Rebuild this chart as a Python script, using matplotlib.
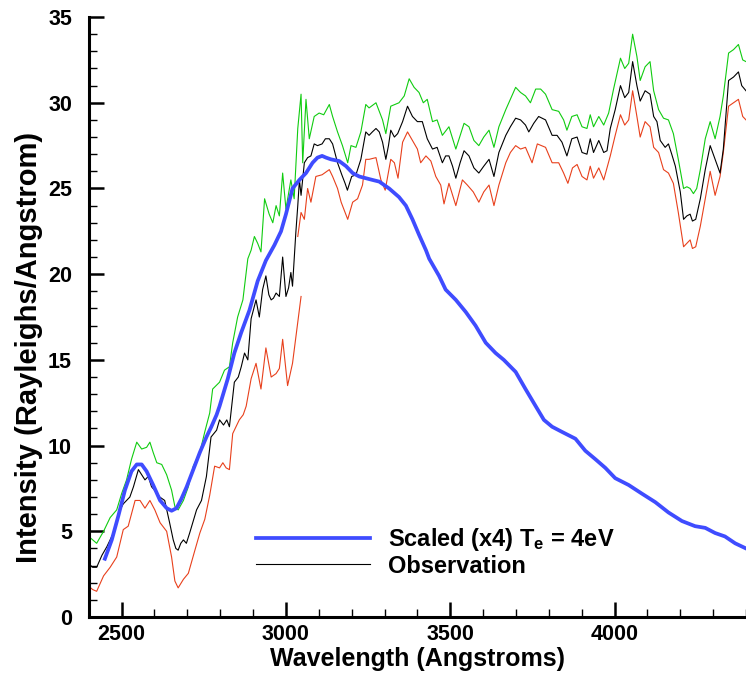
import numpy as np
import matplotlib
matplotlib.use('Agg')
import matplotlib.pyplot as plt

# observation (black)
obs_wl = [2400, 2412, 2424, 2440, 2455, 2465, 2475, 2485, 2495, 2505, 2515, 2525, 2536, 2551, 2561, 2571,
          2581, 2591, 2600, 2616, 2631, 2646, 2657, 2665, 2672, 2680, 2688, 2697, 2707, 2718, 2728, 2743,
          2758, 2772, 2789, 2798, 2810, 2820, 2828, 2843, 2855, 2864, 2874, 2884, 2894, 2909, 2919, 2929,
          2939, 2948, 2955, 2962, 2970, 2980, 2990, 3000, 3008, 3015, 3020, 3030, 3036, 3041, 3046, 3056,
          3066, 3076, 3086, 3096, 3110, 3120, 3132, 3142, 3157, 3170, 3180, 3187, 3200, 3213, 3228, 3243,
          3253, 3263, 3274, 3284, 3294, 3304, 3312, 3319, 3330, 3340, 3355, 3370, 3385, 3400, 3415, 3430,
          3446, 3460, 3476, 3486, 3496, 3507, 3517, 3530, 3542, 3557, 3572, 3587, 3602, 3618, 3633, 3648,
          3669, 3683, 3699, 3714, 3729, 3739, 3754, 3769, 3790, 3810, 3825, 3840, 3855, 3870, 3886, 3901,
          3916, 3926, 3936, 3952, 3967, 3977, 3987, 4002, 4018, 4031, 4043, 4055, 4068, 4078, 4093, 4108,
          4119, 4129, 4139, 4154, 4164, 4174, 4185, 4200, 4210, 4220, 4230, 4237, 4247, 4261, 4276, 4291,
          4306, 4321, 4331, 4347, 4362, 4377, 4387, 4400]
obs = [3.1, 2.9, 2.9, 3.6, 4.1, 4.5, 4.9, 5.6, 6.25, 6.6, 6.8, 7.0, 7.6, 8.6, 8.3, 8.0,
       8.2, 7.6, 7.4, 7.0, 6.8, 5.5, 4.5, 4.0, 3.9, 4.3, 4.5, 4.3, 4.9, 5.6, 6.25, 6.8,
       8.2, 10.5, 10.9, 11.5, 11.2, 11.5, 11.1, 13.7, 14.0, 14.6, 15.4, 15.0, 17.4, 18.5, 17.5, 19.1,
       19.9, 18.8, 18.5, 18.6, 18.9, 18.7, 21.0, 18.7, 19.2, 20.1, 19.3, 22.4, 24.0, 25.5, 24.6, 26.5,
       26.8, 26.9, 27.6, 27.5, 27.6, 27.9, 27.9, 27.6, 26.5, 25.8, 25.3, 24.9, 25.7, 25.8, 26.7, 28.3,
       28.1, 28.3, 28.5, 28.3, 27.7, 26.7, 27.5, 28.4, 28.0, 28.2, 28.9, 29.8, 29.2, 28.9, 28.9, 27.9,
       27.3, 27.4, 26.5, 26.9, 26.9, 26.3, 25.6, 26.5, 27.2, 26.9, 26.2, 25.9, 26.3, 26.7, 25.7, 27.1,
       28.1, 28.6, 29.1, 29.0, 28.7, 28.3, 28.8, 29.2, 29.0, 28.1, 28.1, 27.7, 26.9, 27.9, 28.0, 27.1,
       27.0, 27.9, 27.1, 27.8, 27.1, 27.2, 28.5, 29.6, 31.0, 30.3, 30.6, 32.4, 31.0, 30.1, 30.7, 30.5,
       29.2, 28.9, 27.8, 27.4, 27.6, 27.0, 26.3, 24.8, 23.2, 23.4, 23.5, 23.1, 23.2, 24.4, 26.1, 27.5,
       26.7, 25.9, 27.3, 31.3, 31.5, 31.8, 31.0, 30.7]

# upper error bound (green)
up_wl = [2400, 2412, 2424, 2445, 2465, 2485, 2500, 2515, 2530, 2546, 2561, 2576, 2586, 2596, 2607, 2622,
         2637, 2652, 2662, 2672, 2688, 2703, 2718, 2738, 2753, 2768, 2777, 2798, 2813, 2828, 2838, 2853,
         2869, 2884, 2894, 2904, 2914, 2924, 2935, 2949, 2960, 2970, 2980, 2990, 3000, 3015, 3025, 3036,
         3046, 3051, 3061, 3071, 3086, 3101, 3115, 3132, 3142, 3157, 3172, 3188, 3198, 3213, 3228, 3243,
         3253, 3274, 3294, 3304, 3319, 3344, 3360, 3375, 3390, 3405, 3418, 3430, 3446, 3460, 3476, 3496,
         3517, 3542, 3557, 3572, 3587, 3602, 3618, 3633, 3648, 3669, 3683, 3699, 3714, 3729, 3744, 3760,
         3775, 3790, 3810, 3830, 3845, 3855, 3870, 3886, 3901, 3916, 3926, 3936, 3952, 3967, 3982, 3997,
         4018, 4031, 4043, 4055, 4068, 4078, 4093, 4108, 4119, 4134, 4149, 4164, 4179, 4194, 4210, 4220,
         4230, 4240, 4250, 4261, 4276, 4291, 4306, 4321, 4331, 4347, 4362, 4377, 4390, 4400]
upper = [4.7, 4.5, 4.3, 5.0, 5.8, 6.25, 7.2, 8.0, 9.2, 10.2, 9.8, 9.9, 10.2, 9.6, 9.0, 8.9,
         8.3, 7.4, 6.45, 6.25, 6.8, 7.6, 8.8, 9.6, 10.8, 11.9, 13.3, 13.7, 14.4, 14.6, 16.0, 17.5,
         18.5, 20.9, 21.4, 22.2, 21.8, 21.3, 24.4, 23.5, 23.0, 24.0, 23.4, 25.9, 23.8, 25.5, 24.4, 28.5,
         30.5, 26.5, 30.2, 27.9, 29.2, 29.4, 29.3, 29.9, 29.2, 28.3, 27.5, 26.5, 27.5, 27.4, 28.3, 29.9,
         29.7, 30.0, 29.0, 28.2, 29.8, 30.0, 30.4, 31.4, 30.9, 30.6, 30.0, 30.2, 28.9, 29.0, 28.1, 28.6,
         27.3, 28.8, 28.6, 27.8, 27.5, 28.0, 28.4, 27.4, 28.6, 29.6, 30.2, 30.9, 30.6, 30.4, 30.0, 30.8,
         30.8, 30.5, 29.6, 29.5, 29.0, 28.4, 29.2, 29.3, 28.6, 28.5, 29.3, 28.6, 29.2, 28.7, 29.4, 30.8,
         32.6, 32.0, 32.3, 34.0, 32.7, 31.3, 32.1, 32.4, 30.7, 29.6, 29.1, 29.0, 28.2, 26.7, 25.0, 25.1,
         25.0, 24.7, 25.0, 26.1, 27.9, 28.9, 27.9, 29.2, 30.4, 32.9, 33.1, 33.4, 32.5, 32.4]

# lower error bound (red), two pieces overlapping near 3040
lo1_wl = [2400, 2412, 2424, 2445, 2465, 2485, 2505, 2520, 2541, 2556, 2571, 2586, 2601, 2617, 2637, 2652,
          2662, 2672, 2688, 2703, 2723, 2738, 2753, 2768, 2783, 2798, 2808, 2818, 2828, 2838, 2858, 2870,
          2879, 2894, 2909, 2924, 2939, 2955, 2970, 2980, 2990, 3005, 3020, 3036, 3046]
lower1 = [1.8, 1.6, 1.5, 2.4, 2.9, 3.5, 5.1, 5.3, 6.8, 6.8, 6.35, 6.8, 6.25, 5.5, 5.0, 3.5,
          2.1, 1.7, 2.2, 2.55, 3.9, 4.9, 5.7, 7.1, 8.8, 8.7, 9.0, 8.7, 8.6, 10.7, 11.5, 11.8,
          12.3, 13.9, 14.8, 13.3, 15.7, 14.0, 14.2, 14.5, 16.2, 13.5, 14.8, 17.2, 18.7]
lo2_wl = [3036, 3046, 3056, 3066, 3076, 3091, 3110, 3132, 3142, 3157, 3168, 3188, 3203, 3218, 3233, 3243,
          3253, 3274, 3289, 3302, 3319, 3330, 3341, 3355, 3370, 3385, 3400, 3410, 3426, 3441, 3456, 3471,
          3481, 3496, 3517, 3537, 3552, 3570, 3587, 3602, 3618, 3633, 3648, 3669, 3683, 3699, 3714, 3729,
          3749, 3765, 3790, 3810, 3830, 3845, 3858, 3872, 3886, 3901, 3916, 3926, 3936, 3952, 3967, 3987,
          4002, 4018, 4031, 4043, 4055, 4068, 4078, 4093, 4108, 4119, 4134, 4149, 4164, 4179, 4194, 4210,
          4220, 4230, 4237, 4247, 4261, 4276, 4291, 4306, 4321, 4331, 4347, 4362, 4377, 4390, 4400]
lower2 = [22.2, 23.6, 23.2, 25.0, 24.2, 25.7, 25.8, 26.1, 25.7, 25.0, 24.2, 23.2, 24.2, 24.4, 25.2, 26.7,
          26.7, 26.8, 25.5, 24.9, 26.7, 26.5, 25.6, 27.7, 28.3, 27.8, 27.3, 26.5, 26.9, 26.6, 25.7, 25.2,
          24.1, 25.3, 24.0, 25.5, 25.2, 24.8, 24.2, 24.8, 25.2, 24.0, 25.2, 26.5, 27.1, 27.5, 27.3, 27.4,
          26.5, 27.6, 27.4, 26.5, 26.5, 25.9, 25.3, 26.2, 26.4, 25.7, 25.5, 26.3, 25.6, 26.2, 25.5, 26.9,
          28.1, 29.3, 28.7, 29.0, 30.7, 29.2, 28.0, 28.9, 28.6, 27.4, 27.1, 26.1, 25.9, 25.3, 23.6, 21.6,
          21.8, 22.0, 21.5, 21.6, 22.8, 24.4, 26.0, 24.6, 25.7, 27.1, 29.8, 30.0, 30.2, 29.2, 29.0]

# scaled model, Te = 4 eV (blue)
mod_wl = [2449, 2470, 2490, 2510, 2530, 2546, 2561, 2576, 2596, 2617, 2637, 2652, 2667, 2682, 2698, 2718,
          2738, 2758, 2773, 2789, 2798, 2823, 2843, 2864, 2889, 2914, 2939, 2965, 2985, 3000, 3020, 3041,
          3061, 3081, 3096, 3110, 3122, 3137, 3162, 3183, 3203, 3223, 3243, 3263, 3284, 3314, 3344, 3365,
          3385, 3405, 3426, 3436, 3466, 3486, 3517, 3547, 3577, 3608, 3638, 3663, 3699, 3729, 3760, 3785,
          3810, 3840, 3881, 3911, 3942, 3972, 4002, 4043, 4083, 4124, 4164, 4205, 4245, 4276, 4306, 4336,
          4367, 4400]
model = [3.4, 4.5, 5.9, 7.4, 8.5, 8.9, 8.9, 8.5, 7.7, 6.8, 6.35, 6.2, 6.35, 6.9, 7.6, 8.6,
         9.6, 10.5, 11.1, 11.8, 12.3, 13.9, 15.4, 16.6, 17.9, 19.6, 20.8, 21.7, 22.5, 23.5, 25.0, 25.5,
         25.9, 26.5, 26.8, 26.9, 26.8, 26.7, 26.6, 26.3, 25.9, 25.7, 25.6, 25.5, 25.4, 25.0, 24.5, 24.0,
         23.2, 22.3, 21.4, 20.9, 19.9, 19.1, 18.5, 17.8, 17.0, 16.0, 15.4, 15.0, 14.3, 13.3, 12.3, 11.5,
         11.1, 10.8, 10.4, 9.7, 9.2, 8.7, 8.1, 7.7, 7.2, 6.7, 6.1, 5.6, 5.3, 5.2, 4.9, 4.7,
         4.3, 4.0]

plt.rcParams['font.family'] = ['Liberation Sans', 'DejaVu Sans']
plt.rcParams['font.weight'] = 'bold'
plt.rcParams['mathtext.fontset'] = 'custom'
plt.rcParams['mathtext.rm'] = 'Liberation Sans:bold'
plt.rcParams['mathtext.it'] = 'Liberation Sans:bold'

fig = plt.figure(figsize=(7.46, 6.77), dpi=100)
ax = fig.add_axes([0.119, 0.0886, 0.881, 0.8862])

ax.plot(lo1_wl, lower1, color='#e8401c', lw=0.8)
ax.plot(lo2_wl, lower2, color='#e8401c', lw=0.8)
ax.plot(up_wl, upper, color='#10cc10', lw=0.8)
l_obs, = ax.plot(obs_wl, obs, color='black', lw=0.8)
l_mod, = ax.plot(mod_wl, model, color='#3f4cff', lw=2.7)

ax.set_xlim(2400, 4400)
ax.set_ylim(0, 35)
ax.set_xticks([2500, 3000, 3500, 4000])
ax.set_xticks(np.arange(2400, 4401, 100), minor=True)
ax.set_yticks(np.arange(0, 36, 5))
ax.set_yticks(np.arange(0, 36, 1), minor=True)

for s in ['top', 'right']:
    ax.spines[s].set_visible(False)
for s in ['left', 'bottom']:
    ax.spines[s].set_linewidth(2.2)

ax.tick_params(which='major', direction='in', length=11, width=1.8, labelsize=15.5)
ax.tick_params(which='minor', direction='in', length=6, width=1.0)
ax.tick_params(axis='y', which='major', pad=12)
ax.tick_params(axis='x', which='major', pad=5)

ax.set_xlabel('Wavelength (Angstroms)', fontsize=18, fontweight='bold')
ax.set_ylabel('Intensity (Rayleighs/Angstrom)', fontsize=21, fontweight='bold')
ax.xaxis.set_label_coords(0.5, -0.05)
ax.yaxis.set_label_coords(-0.07, 0.45)

ax.legend([l_mod, l_obs], ['Scaled (x4) T$_{\\rm e}$ = 4eV', 'Observation'],
          loc='upper left', bbox_to_anchor=(0.255, 0.152), frameon=False,
          fontsize=17, handlelength=4.8, handletextpad=0.76, labelspacing=0.08,
          borderpad=0, borderaxespad=0)

plt.savefig('out.png', dpi=100)
